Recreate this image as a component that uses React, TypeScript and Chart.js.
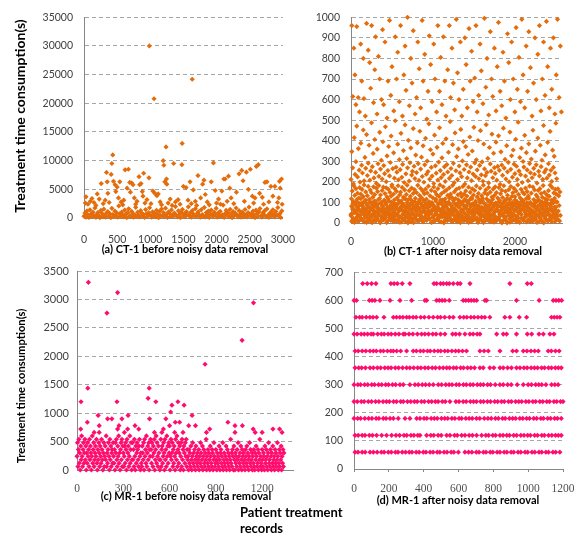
import React, { useEffect, useRef } from "react";
import { Chart, registerables } from "chart.js";

Chart.register(...registerables);

// ---------------- data ----------------
const A_X_TICKS = [0, 500, 1000, 1500, 2000, 2500, 3000];
const A_Y_TICKS = [0, 5000, 10000, 15000, 20000, 25000, 30000, 35000];
const B_X_TICKS = [0, 1000, 2000];
const B_Y_TICKS = [0, 100, 200, 300, 400, 500, 600, 700, 800, 900, 1000];
const C_X_TICKS = [0, 300, 600, 900, 1200];
const C_Y_TICKS = [0, 500, 1000, 1500, 2000, 2500, 3000, 3500];
const D_X_TICKS = [0, 200, 400, 600, 800, 1000, 1200];
const D_Y_TICKS = [0, 100, 200, 300, 400, 500, 600, 700];

const A_X_MAX = 3000;
const B_X_MAX = 2575;
const C_X_MAX = 1400;
const D_X_MAX = 1200;

// (a) CT-1 before: dense low band, one value per sampled record (every 15th record)
const A_BAND_STEP = 15;
const aBandY = [
  320, 880, 150, 1240, 560, 90, 1430, 700, 260, 1010, 430, 1750, 120, 640, 980, 380, 60, 1320, 820, 240,
  1540, 510, 170, 930, 1110, 350, 760, 40, 1680, 600, 280, 1200, 450, 890, 130, 2100, 720, 330, 1050, 520,
  210, 1390, 670, 80, 960, 1600, 410, 250, 1150, 780, 140, 570, 1860, 300, 1020, 460, 190, 1280, 850, 370,
  620, 100, 1470, 740, 290, 920, 1790, 530, 160, 1090, 400, 810, 230, 1350, 690, 50, 1180, 480, 1560, 270,
  940, 360, 1720, 590, 110, 1060, 790, 220, 1410, 540, 310, 870, 2000, 440, 180, 1250, 650, 70, 990, 1500,
  390, 760, 240, 1130, 580, 1950, 340, 910, 150, 1300, 700, 420, 1620, 260, 830, 1070, 490, 130, 1450, 610,
  350, 1840, 200, 950, 550, 1220, 90, 730, 1380, 470, 280, 1010, 640, 1690, 170, 860, 410, 1160, 300, 560,
  2250, 120, 780, 1330, 450, 980, 230, 1520, 680, 60, 1100, 370, 890, 1740, 500, 210, 1270, 620, 140, 1040,
  820, 330, 1480, 570, 190, 960, 1910, 430, 710, 250, 1190, 540, 80, 1370, 800, 290, 1060, 1650, 380, 160,
  920, 600, 1290, 240, 1580, 470, 110, 850, 1020, 350, 1440, 690, 200, 1130, 520, 1810, 310, 760, 90, 1240,
];
// (a) scattered long records [record, seconds]
const aSpikes = [
  [30, 3700], [20, 2600], [60, 2400], [95, 2900], [120, 3400], [150, 2700], [180, 2200], [200, 4200], [230, 3300], [260, 6000],
  [290, 2500], [320, 3100], [340, 7950], [350, 6300], [360, 4300], [380, 2700], [410, 7600], [420, 9500], [434, 11000], [445, 6400],
  [470, 5800], [480, 4600], [500, 5400], [520, 3500], [540, 6300], [560, 2800], [585, 2300], [600, 3100], [620, 8400], [650, 5200],
  [670, 8500], [690, 6200], [700, 4500], [720, 6100], [740, 5800], [760, 3500], [780, 2400], [800, 2900], [830, 7200], [840, 5800],
  [860, 6000], [880, 4600], [890, 3800], [900, 7800], [920, 2600], [950, 3200], [980, 7000], [986, 30000], [1010, 2500], [1040, 4700],
  [1057, 20800], [1070, 4300], [1100, 3900], [1120, 4200], [1150, 2800], [1170, 2300], [1195, 10000], [1205, 9200], [1220, 6300], [1238, 12400],
  [1245, 6800], [1250, 5900], [1270, 2600], [1300, 3300], [1330, 2200], [1353, 9500], [1380, 2800], [1420, 3200], [1450, 2400], [1477, 9300],
  [1481, 13000], [1500, 5500], [1540, 5300], [1570, 3100], [1600, 6300], [1620, 2500], [1633, 24200], [1650, 4900], [1680, 2900], [1700, 2200],
  [1720, 7400], [1760, 3500], [1790, 5900], [1810, 6600], [1830, 4100], [1860, 2800], [1890, 2300], [1920, 6300], [1953, 9600], [1980, 4800],
  [2000, 2600], [2030, 3300], [2060, 2400], [2080, 4700], [2110, 6800], [2130, 6800], [2160, 2900], [2180, 7300], [2200, 5200], [2220, 3500],
  [2260, 2500], [2300, 4500], [2340, 7700], [2380, 8300], [2400, 6500], [2420, 2900], [2450, 8000], [2480, 5000], [2510, 8500], [2540, 3800],
  [2560, 2600], [2580, 3500], [2600, 9000], [2630, 9300], [2650, 4300], [2690, 3600], [2710, 2400], [2730, 6200], [2760, 6300], [2790, 2800],
  [2820, 5500], [2850, 3800], [2880, 5500], [2920, 2700], [2940, 3500], [2950, 6400], [2960, 5200], [2980, 6800], [2990, 2400],
];

// (b) CT-1 after: low band (every 5th record and every 7th), middle (every 10th), upper records [record, seconds]
const B_LOW_STEP = 5;
const bLowY = [
  42, 118, 7, 156, 73, 95, 23, 180, 61, 134, 14, 88, 167, 49, 102, 31, 145, 66, 9, 121,
  84, 172, 37, 58, 140, 19, 97, 163, 52, 11, 128, 76, 185, 44, 109, 27, 151, 68, 3, 92,
  133, 56, 178, 21, 80, 115, 39, 160, 70, 5, 147, 99, 34, 125, 62, 176, 16, 87, 138, 47,
  104, 12, 169, 74, 29, 153, 91, 57, 182, 40, 119, 8, 136, 65, 100, 24, 158, 81, 50, 174,
  18, 111, 63, 143, 35, 94, 171, 2, 127, 77, 45, 164, 54, 106, 26, 149, 83, 13, 131, 69,
  177, 38, 96, 60, 141, 20, 113, 166, 48, 85, 10, 154, 72, 123, 33, 181, 59, 98, 4, 137,
  64, 150, 28, 108, 79, 173, 43, 15, 126, 90, 55, 161, 22, 117, 71, 139, 36, 184, 86, 1,
  114, 46, 157, 67, 30, 130, 93, 6, 170, 51, 105, 17, 144, 78, 39, 162, 25, 120, 58, 88,
  148, 11, 75, 183, 41, 101, 63, 135, 19, 95, 168, 52, 124, 32, 82, 155, 7, 110, 70, 142,
  27, 89, 165, 53, 116, 14, 146, 76, 37, 179, 60, 103, 21, 132, 87, 48, 159, 3, 97, 66,
  122, 34, 175, 80, 9, 152, 57, 107, 44, 138, 73, 16, 167, 92, 26, 129, 61, 185, 40, 99,
  5, 143, 68, 112, 31, 176, 85, 50, 153, 13, 118, 79, 36, 160, 94, 23, 134, 64, 102, 47,
  171, 29, 90, 141, 58, 8, 125, 74, 183, 42, 109, 18, 151, 67, 33, 119, 86, 163, 11, 55,
  96, 137, 24, 77, 170, 45, 104, 2, 145, 62, 128, 35, 91, 178, 53, 15, 140, 72, 115, 28,
  156, 83, 12, 131, 65, 98, 38, 174, 20, 111, 56, 149, 81, 6, 123, 44, 166, 93, 30, 136,
  71, 17, 158, 48, 106, 87, 180, 25, 127, 60, 3, 144, 75, 113, 39, 169, 54, 100, 14, 132,
  43, 120, 66, 184, 9, 95, 146, 32, 78, 161, 51, 117, 22, 139, 84, 59, 173, 10, 107, 69,
  150, 37, 101, 16, 126, 74, 41, 165, 89, 4, 134, 57, 176, 27, 97, 148, 63, 19, 121, 82,
  26, 172, 55, 110, 35, 142, 7, 92, 159, 68, 124, 46, 13, 181, 79, 103, 30, 154, 61, 115,
  88, 1, 135, 73, 49, 162, 99, 21, 116, 58, 177, 40, 85, 130, 11, 147, 70, 36, 168, 94,
  128, 62, 18, 155, 80, 105, 33, 185, 52, 139, 8, 96, 71, 122, 45, 164, 24, 112, 83, 150,
  15, 108, 67, 141, 29, 86, 170, 42, 119, 5, 153, 76, 38, 131, 93, 57, 179, 20, 100, 64,
  145, 34, 90, 12, 175, 53, 114, 78, 161, 27, 102, 48, 136, 65, 3, 127, 82, 158, 39, 111,
  59, 167, 23, 98, 143, 72, 9, 125, 46, 182, 87, 31, 149, 60, 118, 17, 106, 74, 137, 50,
  94, 13, 157, 41, 129, 66, 184, 28, 81, 110, 6, 172, 55, 97, 35, 146, 69, 120, 22, 163,
  77, 140, 44, 103, 19, 166, 58, 132, 85, 10, 151, 37,
];
const B_LOW2_STEP = 7;
const bLow2Y = [
  35, 82, 12, 67, 104, 49, 3, 91, 58, 20, 113, 74, 41, 8, 96, 63, 27, 118, 52, 85,
  16, 71, 99, 38, 5, 60, 110, 29, 87, 46, 13, 77, 55, 102, 24, 68, 93, 2, 44, 80,
  61, 107, 33, 10, 89, 52, 19, 75, 115, 40, 66, 1, 98, 57, 31, 84, 14, 69, 47, 106,
  25, 93, 54, 9, 72, 117, 37, 62, 18, 86, 44, 101, 28, 79, 6, 50, 95, 35, 70, 12,
  88, 43, 15, 109, 58, 30, 76, 4, 97, 64, 21, 83, 48, 119, 36, 7, 73, 56, 100, 26,
  51, 11, 80, 39, 114, 65, 22, 92, 45, 2, 69, 105, 32, 59, 17, 87, 42, 76, 9, 112,
  70, 34, 96, 19, 53, 84, 6, 63, 108, 27, 46, 90, 14, 74, 38, 100, 57, 23, 81, 48,
  4, 99, 60, 28, 86, 13, 71, 42, 116, 55, 20, 78, 35, 94, 8, 66, 111, 30, 52, 89,
  39, 75, 1, 58, 103, 24, 82, 47, 11, 68, 95, 33, 120, 61, 16, 85, 43, 7, 72, 54,
  97, 21, 64, 37, 88, 5, 50, 113, 29, 77, 41, 15, 92, 59, 26, 104, 67, 10, 83, 45,
  18, 73, 107, 32, 56, 3, 94, 66, 23, 81, 49, 118, 12, 62, 36, 88, 54, 99, 20, 70,
  58, 8, 85, 44, 17, 101, 67, 31, 76, 110, 39, 2, 60, 93, 25, 71, 47, 14, 82, 36,
  106, 53, 27, 90, 6, 64, 40, 115, 19, 79, 51, 33, 97, 9, 68, 86, 22, 57, 102, 43,
  13, 78, 61, 1, 95, 34, 72, 48, 109, 26, 83, 10, 55, 117, 38, 65, 91, 4, 46, 74,
  30, 100, 45, 84, 16, 59, 112, 35, 7, 69, 92, 24, 76, 50, 3, 87, 62, 41, 105, 18,
  66, 11, 92, 54, 28, 80, 42, 99, 63, 15, 120, 37, 71, 6, 48, 89, 31, 58, 12, 84,
  47, 96, 20, 73, 37, 108, 5, 62, 86, 29, 52, 14, 79, 103, 40, 67, 1, 94, 56, 23,
  81, 39, 114, 9, 64, 45, 90, 18, 70, 34, 98, 57, 26, 111, 43, 77, 8, 60, 101, 32,
];
const B_MID_STEP = 10;
const bMidY = [
  212, 347, 268, 190, 415, 236, 298, 471, 224, 362, 257, 199, 388, 281, 243, 452, 205, 319, 266, 430,
  231, 291, 378, 208, 253, 487, 274, 338, 219, 406, 246, 193, 359, 288, 227, 441, 262, 305, 214, 395,
  279, 240, 468, 201, 326, 255, 372, 229, 294, 423, 186, 264, 341, 218, 497, 271, 247, 383, 210, 308,
  259, 436, 222, 285, 352, 197, 477, 239, 313, 268, 402, 204, 293, 365, 233, 251, 459, 276, 216, 330,
  245, 390, 289, 207, 446, 262, 320, 226, 375, 198, 283, 412, 237, 301, 250, 482, 213, 356, 270, 228,
  335, 192, 427, 278, 242, 368, 209, 296, 463, 255, 221, 317, 387, 236, 273, 202, 409, 284, 248, 344,
  217, 493, 265, 231, 381, 290, 196, 438, 254, 323, 211, 360, 277, 244, 455, 225, 302, 396, 260, 189,
  371, 283, 219, 333, 248, 418, 272, 206, 350, 238, 465, 292, 226, 307, 258, 401, 215, 280, 449, 234,
  297, 203, 384, 263, 230, 478, 246, 314, 195, 367, 287, 252, 432, 220, 339, 269, 241, 393, 208, 275,
  424, 256, 188, 346, 282, 232, 461, 267, 309, 214, 376, 249, 295, 200, 442, 261, 327, 223, 355, 286,
  240, 407, 276, 212, 490, 253, 318, 235, 364, 197, 299, 272, 426, 228, 342, 258, 206, 385, 289, 244,
  311, 220, 451, 266, 237, 349, 283, 194, 413, 251, 229, 378, 274, 305, 212, 474, 247, 331, 260, 218,
  392, 288, 233, 445, 256, 202, 354, 270, 324, 243, 485, 215,
];
const bHighPts = [
  [10, 960], [22, 615], [35, 850], [48, 720], [60, 575], [70, 955], [88, 610], [104, 540], [118, 870], [131, 690],
  [150, 800], [158, 605], [175, 520], [190, 970], [210, 840], [228, 780], [240, 655], [252, 960], [275, 585], [290, 745],
  [300, 905], [318, 530], [335, 810], [350, 700], [372, 600], [385, 940], [398, 575], [415, 880], [440, 510], [452, 690],
  [470, 985], [486, 620], [500, 760], [522, 545], [540, 905], [556, 700], [570, 830], [590, 590], [605, 960], [628, 520],
  [645, 720], [660, 860], [672, 645], [690, 1000], [712, 570], [730, 800], [745, 680], [760, 935], [782, 530], [800, 610],
  [815, 880], [832, 750], [850, 560], [868, 985], [880, 690], [900, 820], [925, 505], [940, 640], [955, 910], [972, 770],
  [990, 590], [1010, 870], [1025, 700], [1045, 540], [1060, 960], [1080, 640], [1095, 805], [1110, 575], [1128, 905], [1145, 690],
  [1160, 520], [1180, 745], [1200, 960], [1215, 610], [1232, 850], [1250, 680], [1265, 550], [1285, 990], [1300, 730], [1318, 600],
  [1335, 880], [1352, 520], [1370, 650], [1390, 900], [1405, 770], [1420, 560], [1440, 945], [1455, 690], [1472, 835], [1490, 590],
  [1510, 705], [1525, 960], [1540, 540], [1558, 620], [1575, 870], [1590, 740], [1610, 580], [1628, 995], [1645, 660], [1660, 800],
  [1680, 525], [1700, 930], [1715, 700], [1730, 615], [1750, 850], [1770, 545], [1785, 760], [1800, 975], [1820, 640], [1840, 570],
  [1855, 830], [1872, 690], [1890, 510], [1910, 920], [1925, 780], [1945, 600], [1960, 880], [1980, 700], [2000, 540], [2015, 950],
  [2030, 650], [2050, 805], [2068, 590], [2085, 990], [2100, 720], [2120, 560], [2138, 860], [2155, 640], [2170, 930], [2190, 755],
  [2210, 520], [2228, 680], [2245, 900], [2260, 600], [2280, 820], [2300, 960], [2318, 545], [2335, 700], [2350, 880], [2368, 620],
  [2385, 980], [2400, 760], [2420, 560], [2435, 850], [2450, 650], [2470, 900], [2488, 530], [2505, 720], [2520, 990], [2540, 610],
  [2555, 860], [2568, 540],
];

// (c) MR-1 before: values recorded in 60 s steps, every 3rd record
const C_BAND_STEP = 3;
const cBandY = [
  240, 480, 60, 360, 540, 120, 300, 0, 420, 180, 600, 240, 60, 360, 480, 120, 300, 540, 180, 420,
  0, 300, 120, 480, 240, 360, 60, 540, 180, 420, 300, 0, 240, 600, 120, 360, 480, 60, 180, 300,
  420, 240, 540, 120, 0, 360, 180, 480, 300, 60, 420, 240, 120, 540, 360, 180, 0, 300, 480, 60,
  240, 420, 180, 600, 60, 300, 120, 360, 480, 240, 0, 540, 180, 420, 60, 300, 360, 120, 480, 240,
  120, 360, 0, 480, 300, 540, 180, 60, 420, 240, 600, 120, 300, 0, 360, 480, 180, 540, 60, 420,
  300, 60, 240, 420, 120, 480, 360, 0, 540, 180, 300, 420, 60, 240, 600, 120, 360, 480, 0, 180,
  480, 180, 360, 60, 540, 240, 0, 420, 120, 300, 480, 360, 180, 60, 420, 540, 240, 0, 300, 120,
  60, 420, 300, 180, 480, 0, 540, 240, 360, 120, 600, 60, 300, 420, 180, 480, 0, 360, 240, 540,
  360, 120, 480, 240, 60, 420, 300, 540, 0, 180, 360, 600, 120, 480, 240, 60, 420, 300, 180, 0,
  180, 540, 60, 360, 420, 120, 240, 480, 300, 0, 540, 180, 360, 60, 600, 240, 420, 120, 480, 300,
  420, 0, 240, 540, 180, 300, 480, 60, 360, 120, 420, 240, 0, 540, 300, 180, 600, 60, 360, 480,
  120, 300, 420, 0, 240, 480, 60, 540, 180, 360, 0, 420, 300, 120, 480, 240, 540, 60, 360, 180,
  240, 0, 360, 120, 300, 60, 420, 180, 0, 240, 480, 120, 300, 60, 360, 180, 0, 420, 240, 120,
  300, 60, 180, 360, 0, 240, 120, 480, 300, 60, 180, 420, 0, 240, 360, 120, 60, 300, 180, 540,
  0, 240, 120, 360, 60, 300, 180, 0, 420, 240, 120, 60, 360, 300, 0, 180, 480, 240, 60, 120,
  360, 180, 0, 300, 120, 240, 60, 420, 180, 0, 300, 360, 120, 240, 60, 480, 0, 180, 300, 120,
  60, 240, 420, 0, 180, 360, 120, 300, 60, 240, 0, 180, 540, 120, 300, 60, 360, 240, 0, 420,
  180, 0, 300, 120, 240, 60, 360, 180, 480, 0, 240, 120, 300, 60, 420, 180, 0, 360, 240, 120,
  300, 60, 180, 0, 360, 240, 120, 420, 60, 300, 180, 0, 240, 480, 120, 360, 60, 180, 300, 0,
  240, 120, 360, 60, 0, 300, 180, 420, 240, 60, 120, 360, 0, 300, 180, 540, 60, 240, 120, 0,
  360, 180, 60, 300, 240, 0, 420, 120, 180, 360, 60, 240, 0, 300, 480, 120, 180, 60, 360, 240,
  0, 300, 120, 420, 60, 180, 240, 0, 360, 120, 300, 60, 180, 480, 240, 0, 120, 360, 60, 300,
  180, 420, 0, 240, 120, 360, 60, 300,
];
const cSpikes = [
  [74, 3300], [194, 2760], [263, 3120], [70, 1440], [26, 1200], [259, 1200], [1070, 2280], [1144, 2940], [830, 1860], [468, 1440],
  [461, 1260], [511, 1200], [615, 1140], [607, 1020], [654, 1200], [694, 1140], [576, 900], [470, 900], [746, 960], [67, 840],
  [137, 960], [198, 900], [226, 900], [291, 900], [331, 960], [376, 780], [637, 840], [665, 840], [724, 780], [768, 780],
  [978, 840], [1024, 780], [1072, 780], [1142, 720], [1313, 720], [24, 720], [263, 720], [328, 720], [144, 780], [272, 780],
  [111, 660], [144, 660], [307, 660], [502, 660], [550, 660], [633, 660], [687, 660], [839, 660], [1024, 660], [1155, 660],
  [1329, 660], [400, 720], [560, 720], [600, 780], [860, 720], [1200, 660], [1270, 720],
];

// (d) MR-1 after: record numbers found on each 60 s level
const D_LEVELS = [60, 120, 180, 240, 300, 360, 420, 480, 540, 600, 660];
const d60 = [6, 23, 47, 64, 92, 111, 133, 157, 173, 197, 214, 238, 253, 277, 296, 317, 333, 357, 374, 398, 413, 437, 454, 478, 493, 517, 534, 558, 573, 599, 637, 658, 677, 702, 718, 743, 758, 782, 797, 822, 838, 862, 878, 902, 917, 942, 958, 982, 997, 1022, 1038, 1062, 1078, 1102, 1117, 1142, 1158, 1182];
const d120 = [6, 24, 47, 63, 88, 106, 130, 159, 187, 216, 241, 262, 287, 303, 327, 344, 366, 379, 417, 441, 458, 483, 501, 532, 551, 577, 593, 618, 637, 661, 680, 704, 733, 757, 773, 797, 813, 838, 856, 877, 893, 917, 934, 958, 976, 997, 1013, 1037, 1054, 1078, 1093, 1117, 1136, 1157, 1173, 1190];
const d180 = [0, 21, 38, 62, 84, 103, 127, 143, 168, 184, 207, 226, 254, 293, 321, 360, 379, 402, 418, 443, 461, 478, 502, 521, 538, 562, 579, 603, 618, 642, 661, 679, 703, 722, 748, 769, 788, 812, 829, 853, 868, 892, 911, 928, 952, 969, 991, 1008, 1032, 1049, 1073, 1088, 1112, 1129, 1152, 1168, 1190];
const d240 = [0, 19, 42, 58, 82, 101, 124, 143, 167, 186, 203, 227, 244, 268, 283, 307, 326, 347, 363, 387, 404, 428, 446, 467, 483, 507, 524, 551, 585, 603, 627, 644, 668, 686, 703, 727, 744, 766, 784, 808, 825, 847, 863, 887, 904, 928, 946, 963, 987, 1004, 1027, 1043, 1067, 1084, 1107, 1123, 1148, 1164, 1186, 1200];
const d300 = [0, 22, 38, 61, 79, 102, 118, 141, 159, 182, 198, 221, 239, 264, 283, 321, 350, 369, 392, 411, 432, 455, 484, 503, 527, 546, 563, 587, 604, 628, 645, 667, 684, 708, 726, 743, 767, 784, 811, 838, 857, 882, 903, 937, 972, 1000, 1019, 1043, 1061, 1078, 1102, 1134, 1153, 1172];
const d360 = [6, 27, 44, 66, 92, 111, 134, 153, 177, 196, 213, 237, 256, 279, 302, 321, 343, 366, 384, 407, 426, 449, 468, 491, 512, 532, 549, 571, 588, 612, 629, 652, 671, 692, 723, 742, 780, 803, 838, 857, 882, 904, 933, 953, 976, 994, 1017, 1036, 1054, 1077, 1094, 1117, 1134, 1156, 1173, 1190];
const d420 = [6, 24, 47, 68, 92, 111, 128, 152, 169, 192, 211, 226, 245, 268, 302, 340, 358, 381, 399, 422, 438, 461, 482, 498, 521, 539, 562, 583, 601, 623, 646, 723, 747, 771, 838, 911, 933, 972, 993, 1016, 1037, 1058, 1115, 1133, 1157, 1178];
const d480 = [0, 18, 41, 59, 78, 98, 111, 136, 157, 173, 196, 214, 237, 258, 283, 293, 316, 338, 364, 388, 407, 428, 452, 471, 497, 522, 566, 584, 606, 637, 666, 684, 707, 723, 819, 857, 876, 933, 995, 1020, 1062, 1087, 1125, 1148];
const d540 = [11, 32, 47, 70, 91, 109, 130, 172, 226, 244, 263, 281, 302, 318, 339, 357, 383, 404, 430, 455, 480, 497, 521, 548, 570, 608, 630, 648, 671, 690, 712, 733, 751, 780, 866, 895, 949, 991, 1134, 1150, 1166, 1182];
const d600 = [0, 14, 88, 104, 120, 149, 207, 264, 331, 407, 417, 474, 490, 506, 522, 547, 627, 642, 658, 673, 689, 704, 752, 761, 933, 1063, 1144, 1160, 1176, 1192];
const d660 = [50, 76, 101, 126, 212, 230, 249, 277, 321, 459, 474, 497, 513, 532, 547, 570, 595, 610, 666, 895, 995, 1018];
const D_ROWS = [d60, d120, d180, d240, d300, d360, d420, d480, d540, d600, d660];

// ---------------- styling ----------------
const ORANGE = "#E46C0A";
const PINK = "#FF0D6E";
const SANS = "Lato";
const SERIF = "'Liberation Serif'";
const POINT_RADIUS = 2.6;

type Pt = { x: number; y: number };
const sampled = (ys: number[], step: number): Pt[] => ys.map((y, i) => ({ x: i * step, y }));
const pairs = (ps: number[][]): Pt[] => ps.map(([x, y]) => ({ x, y }));
const row = (xs: number[], level: number): Pt[] => xs.map((x) => ({ x, y: level }));

interface Panel {
  box: { left: number; top: number; width: number; height: number };
  yAxisW: number;
  xAxisH: number;
  padTop: number;
  padRight: number;
  xMax: number;
  yMax: number;
  xTicks: number[];
  yTicks: number[];
  xFont: { family: string; size: number };
  yFont: { family: string; size: number };
  xColor: string;
  xPad: number;
  yPad: number;
  xTickMarks: boolean;
  series: Pt[][];
  color: string;
}

const PANELS: Panel[] = [
  {
    box: { left: 0, top: 0, width: 310, height: 262 },
    yAxisW: 84, xAxisH: 44, padTop: 17, padRight: 16,
    xMax: A_X_MAX, yMax: 35000, xTicks: A_X_TICKS, yTicks: A_Y_TICKS,
    xFont: { family: SANS, size: 10.5 }, yFont: { family: SANS, size: 10.5 }, xColor: "#404040",
    xPad: 15, yPad: 11, xTickMarks: false,
    series: [sampled(aBandY, A_BAND_STEP), pairs(aSpikes)], color: ORANGE,
  },
  {
    box: { left: 290, top: 0, width: 296, height: 262 },
    yAxisW: 61, xAxisH: 39, padTop: 14, padRight: 24,
    xMax: B_X_MAX, yMax: 1000, xTicks: B_X_TICKS, yTicks: B_Y_TICKS,
    xFont: { family: SANS, size: 10.5 }, yFont: { family: SANS, size: 10.5 }, xColor: "#404040",
    xPad: 12, yPad: 11, xTickMarks: false,
    series: [
      sampled(bLowY, B_LOW_STEP),
      sampled(bLow2Y, B_LOW2_STEP),
      sampled(bMidY, B_MID_STEP),
      pairs(bHighPts),
    ],
    color: ORANGE,
  },
  {
    box: { left: 0, top: 255, width: 310, height: 262 },
    yAxisW: 77, xAxisH: 47, padTop: 16, padRight: 17,
    xMax: C_X_MAX, yMax: 3500, xTicks: C_X_TICKS, yTicks: C_Y_TICKS,
    xFont: { family: SERIF, size: 11.5 }, yFont: { family: SANS, size: 11 }, xColor: "#505050",
    xPad: 12, yPad: 8, xTickMarks: false,
    series: [sampled(cBandY, C_BAND_STEP), pairs(cSpikes)], color: PINK,
  },
  {
    box: { left: 290, top: 255, width: 296, height: 262 },
    yAxisW: 64, xAxisH: 48, padTop: 12, padRight: 23,
    xMax: D_X_MAX, yMax: 700, xTicks: D_X_TICKS, yTicks: D_Y_TICKS,
    xFont: { family: SERIF, size: 11.5 }, yFont: { family: SANS, size: 10.5 }, xColor: "#505050",
    xPad: 10, yPad: 11, xTickMarks: true,
    series: D_ROWS.map((xs, i) => row(xs, D_LEVELS[i])), color: PINK,
  },
];

function makeConfig(p: Panel): any {
  return {
    type: "scatter",
    data: {
      datasets: p.series.map((data) => ({
        data,
        showLine: false,
        pointStyle: "rectRot",
        pointRadius: POINT_RADIUS,
        pointBorderWidth: 0,
        borderWidth: 0,
        backgroundColor: p.color,
        pointBackgroundColor: p.color,
        clip: false,
      })),
    },
    options: {
      responsive: false,
      animation: false,
      events: [],
      layout: { autoPadding: false, padding: { left: 0, top: p.padTop, right: p.padRight, bottom: 0 } },
      plugins: { legend: { display: false }, tooltip: { enabled: false }, title: { display: false } },
      scales: {
        x: {
          type: "linear",
          min: 0,
          max: p.xMax,
          afterFit: (s: any) => { s.height = p.xAxisH; },
          afterBuildTicks: (s: any) => { s.ticks = p.xTicks.map((v) => ({ value: v })); },
          grid: { drawOnChartArea: false, drawTicks: p.xTickMarks, tickLength: 3, color: "#868686" },
          border: { display: true, color: "#868686", width: 1 },
          ticks: {
            padding: p.xPad, font: p.xFont, color: p.xColor, maxRotation: 0, minRotation: 0,
            autoSkip: false, callback: (v: any) => String(v),
          },
        },
        y: {
          type: "linear",
          min: 0,
          max: p.yMax,
          afterFit: (s: any) => { s.width = p.yAxisW; },
          afterBuildTicks: (s: any) => { s.ticks = p.yTicks.map((v) => ({ value: v })); },
          grid: {
            drawTicks: false, lineWidth: 1,
            color: (c: any) => (c.tick && c.tick.value === 0 ? "rgba(0,0,0,0)" : "#A6A6A6"),
          },
          border: { display: true, color: "#868686", width: 1, dash: [4, 3] },
          ticks: { padding: p.yPad, font: p.yFont, color: "#404040", autoSkip: false, callback: (v: any) => String(v) },
        },
      },
    },
  };
}

const CAPTIONS = [
  { text: "(a) CT-1 before noisy data removal", cx: 185, cy: 248 },
  { text: "(b) CT-1 after noisy data removal", cx: 463, cy: 250 },
  { text: "(c) MR-1 before noisy data removal", cx: 186, cy: 495 },
  { text: "(d) MR-1 after noisy data removal", cx: 458, cy: 499 },
];
const Y_TITLE = "Treatment time consumption(s)";
const X_TITLE_LINES = ["Patient treatment", "records"];

function centered(cx: number, cy: number, size: number, rotate = false): React.CSSProperties {
  return {
    position: "absolute",
    left: cx,
    top: cy,
    transform: `translate(-50%, -50%)${rotate ? " rotate(-90deg)" : ""}`,
    font: `bold ${size}px ${SANS}`,
    lineHeight: "1",
    whiteSpace: "nowrap",
    color: "#000",
  };
}

export default function App() {
  const refs = [useRef<HTMLCanvasElement>(null), useRef<HTMLCanvasElement>(null), useRef<HTMLCanvasElement>(null), useRef<HTMLCanvasElement>(null)];

  useEffect(() => {
    const charts: Chart[] = [];
    PANELS.forEach((p, i) => {
      const c = refs[i].current;
      if (c) charts.push(new Chart(c, makeConfig(p)));
    });
    return () => charts.forEach((c) => c.destroy());
  }, []);

  return (
    <div style={{ position: "absolute", left: 0, top: 0, width: 586, height: 536, background: "#fff", overflow: "hidden" }}>
      {PANELS.map((p, i) => (
        <canvas
          key={i}
          ref={refs[i]}
          width={p.box.width}
          height={p.box.height}
          style={{ position: "absolute", left: p.box.left, top: p.box.top, width: p.box.width, height: p.box.height }}
        />
      ))}
      <div style={centered(20, 116, 14, true)}>{Y_TITLE}</div>
      <div style={centered(21, 386, 11.2, true)}>{Y_TITLE}</div>
      {CAPTIONS.map((c, i) => (
        <div key={i} style={centered(c.cx, c.cy, 11)}>{c.text}</div>
      ))}
      <div style={{ position: "absolute", left: 240, top: 504, font: `bold 13px ${SANS}`, lineHeight: "16px", color: "#000", whiteSpace: "nowrap" }}>
        {X_TITLE_LINES[0]}
        <br />
        {X_TITLE_LINES[1]}
      </div>
    </div>
  );
}
